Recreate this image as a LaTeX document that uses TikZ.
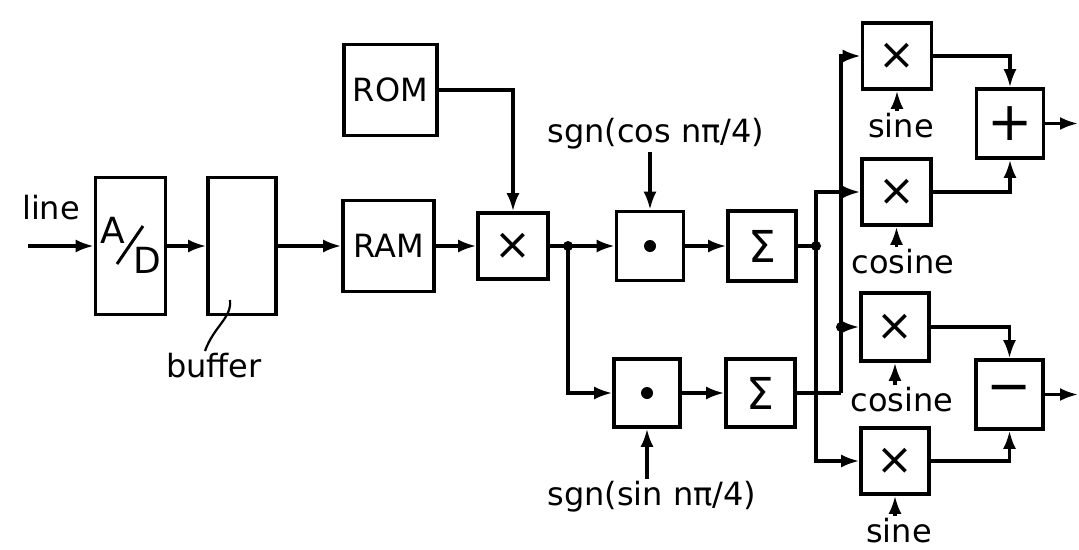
\documentclass[tikz,border=0pt]{standalone}
\usepackage{fontspec}
\setmainfont{DejaVu Sans}
\usetikzlibrary{arrows.meta}
\begin{document}
\begin{tikzpicture}[x=1pt,y=-1pt,line width=3.2pt,
  blk/.style={draw,line width=3.6pt,inner sep=0pt},
  txt/.style={font=\fontsize{32}{36}\selectfont,inner sep=1pt},
  adtxt/.style={font=\fontsize{36}{40}\selectfont,inner sep=0pt},
  sym/.style={font=\fontsize{44}{48}\selectfont,inner sep=0pt},
  big/.style={font=\fontsize{54}{58}\selectfont,inner sep=0pt},
  arr/.style={-{Latex[length=18pt,width=13pt]}},
  jdot/.style={fill,radius=5pt}]
\useasboundingbox (0,0) rectangle (1079,549);
% blocks
\node[blk,minimum width=70pt,minimum height=137pt] (ad) at (130.5,246) {};
\node[adtxt] (adA) at (113,230) {A};
\node[adtxt] (adD) at (147,260) {D};
\draw[line width=3pt] (117,264) -- (143,226);
\node[blk,minimum width=68pt,minimum height=137pt] (buf) at (242,246) {};
\node[blk,txt,minimum width=93pt,minimum height=91pt] (rom) at (390.5,90) {ROM};
\node[blk,txt,minimum width=91pt,minimum height=91pt] (ram) at (388.5,246) {RAM};
\node[blk,sym,minimum width=70pt,minimum height=66pt] (mul) at (513,246) {×};
\node[blk,minimum width=67pt,minimum height=69pt] (dot1) at (650,246) {};
\node[blk,minimum width=66pt,minimum height=68pt] (dot2) at (647,393) {};
\fill (dot1.center) circle (6pt);
\fill (dot2.center) circle (6pt);
\node[blk,sym,minimum width=68pt,minimum height=70pt] (sig1) at (762,246) {Σ};
\node[blk,sym,minimum width=69pt,minimum height=68pt] (sig2) at (760.5,393) {Σ};
\node[blk,sym,minimum width=69pt,minimum height=66pt] (m1) at (897,56) {×};
\node[blk,sym,minimum width=69pt,minimum height=66pt] (m2) at (896.5,192) {×};
\node[blk,sym,minimum width=68pt,minimum height=68pt] (m3) at (895,327) {×};
\node[blk,sym,minimum width=68pt,minimum height=66pt] (m4) at (895,461) {×};
\node[blk,big,minimum width=67pt,minimum height=69pt] (plus) at (1010,123.5) {+};
\node[blk,big,minimum width=67pt,minimum height=69pt] (minus) at (1009.5,394.5) {−};
% labels
\node[txt] (line) at (51,208) {line};
\node[txt] (bufl) at (214,366) {buffer};
\node[txt] (sc) at (656,134) {sgn(cos nπ/4)};
\node[txt] (ss) at (652,497) {sgn(sin nπ/4)};
\node[txt] (l1) at (901,126) {sine};
\node[txt] (l2) at (903,262) {cosine};
\node[txt] (l3) at (902,400) {cosine};
\node[txt] (l4) at (899,531) {sine};
% coordinates
\coordinate (in) at (28,246);
\coordinate (j1) at (568,246);
\coordinate (j2) at (816,246);
\coordinate (c3) at (841,393);
\coordinate (j3) at (841,327);
\coordinate (o1) at (1078,123.5);
\coordinate (o2) at (1078,394.5);
% connectors
\draw[arr] (in) -- (ad.west);
\draw[arr] (ad.east) -- (buf.west);
\draw[arr] (buf.east) -- (ram.west);
\draw[line width=2.2pt] (230,300) .. controls (232,318) and (214,326) .. (bufl.north -| 205,0);
\draw[arr] (rom.east) -| (mul.north);
\draw[arr] (ram.east) -- (mul.west);
\draw (mul.east) -- (j1);
\draw[arr] (j1) -- (dot1.west);
\draw[arr] (j1) |- (dot2.west);
\draw[arr] (dot1.north |- sc.south) -- (dot1.north);
\draw[arr] (dot2.south |- ss.north) -- (dot2.south);
\draw[arr] (dot1.east) -- (sig1.west);
\draw[arr] (dot2.east) -- (sig2.west);
\draw (sig1.east) -- (j2);
\draw[arr] (j2) |- (m2.west);
\draw[arr] (j2) |- (m4.west);
\draw (sig2.east) -- (c3);
\draw[arr] (c3) |- (m1.west);
\draw[arr] (j3) -- (m3.west);
\draw[arr] (m1.south |- l1.north) -- (m1.south);
\draw[arr] (m2.south |- l2.north) -- (m2.south);
\draw[arr] (m3.south |- l3.north) -- (m3.south);
\draw[arr] (m4.south |- l4.north) -- (m4.south);
\draw[arr] (m1.east) -| (plus.north);
\draw[arr] (m2.east) -| (plus.south);
\draw[arr] (m3.east) -| (minus.north);
\draw[arr] (m4.east) -| (minus.south);
\draw[arr] (plus.east) -- (o1);
\draw[arr] (minus.east) -- (o2);
\fill[jdot] (j1) circle;
\fill[jdot] (j2) circle;
\fill[jdot] (j3) circle;
\end{tikzpicture}
\end{document}
